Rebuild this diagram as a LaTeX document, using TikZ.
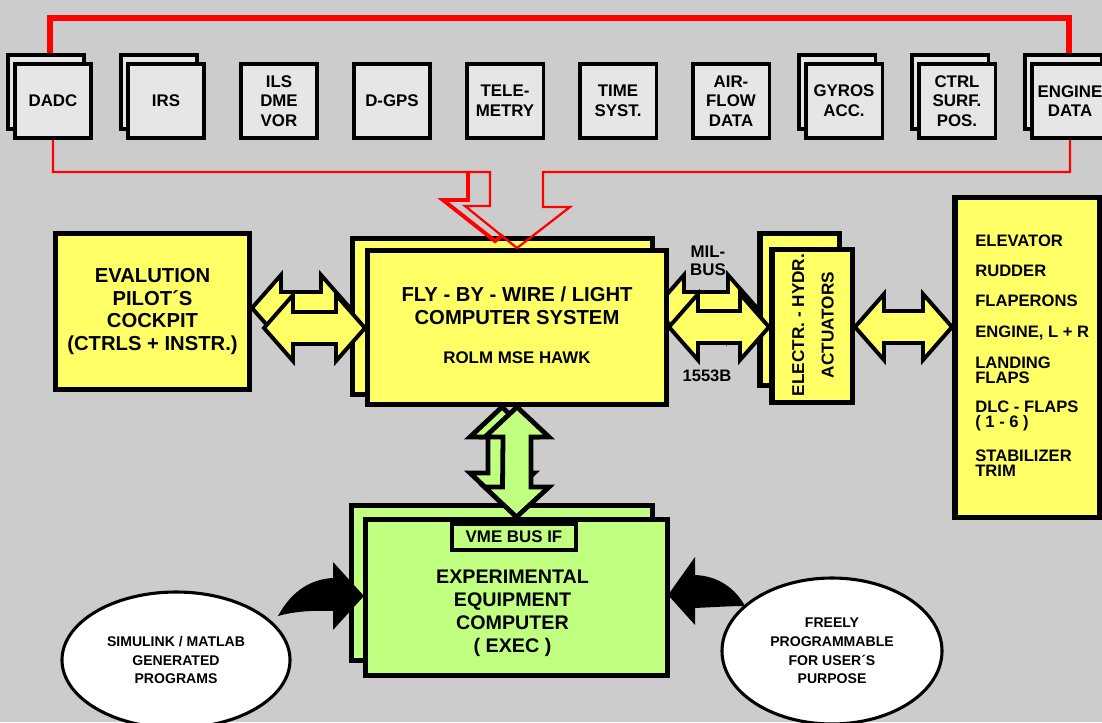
\documentclass[tikz,border=0pt]{standalone}
\usepackage{fontspec}
\setmainfont{Liberation Sans}
\usepackage{tikz}
\usetikzlibrary{calc, positioning, shapes.geometric}

\definecolor{bggray}{RGB}{204,204,204}
\definecolor{sensorgray}{RGB}{230,230,230}
\definecolor{boxyellow}{RGB}{255,255,102}
\definecolor{boxgreen}{RGB}{192,255,128}
\definecolor{busred}{RGB}{255,0,0}

\def\pxl{0.025cm}

% horizontal double arrow: style, left tip, right tip
\newcommand{\hdarrow}[3]{%
	\draw[#1] let \p1=(#2), \p2=(#3) in (\p1) -- ++(29,-33) -- ++(0,17) -- ({\x2-29*\pxl},{\y1+16*\pxl}) -- ++(0,-17) -- (\p2) -- ++(-29,33) -- ++(0,-17) -- ({\x1+29*\pxl},{\y1-16*\pxl}) -- ++(0,17) -- cycle;
}
% vertical double arrow: style, top tip, bottom tip
\newcommand{\vdarrow}[3]{%
	\draw[#1] let \p1=(#2), \p2=(#3) in (\p1) -- ++(32,30) -- ++(-18,0) -- ({\x1+14*\pxl},{\y2+30*\pxl}) -- ++(18,0) -- (\p2) -- ++(-32,-30) -- ++(18,0) -- ({\x1-14*\pxl},{\y1-30*\pxl}) -- ++(-18,0) -- cycle;
}

\begin{document}
\begin{tikzpicture}[x=\pxl, y=-\pxl,
	sensor/.style={draw, line width=2.5pt, fill=sensorgray, minimum width=76.5*\pxl, minimum height=74.5*\pxl, inner sep=0pt, align=center, font=\bfseries\fontsize{12}{14}\selectfont},
	ybox/.style={draw, line width=3.9pt, fill=boxyellow, inner sep=0pt, align=center},
	gbox/.style={draw, line width=3.9pt, fill=boxgreen, inner sep=0pt, align=center},
	bigtxt/.style={align=center, font=\bfseries\fontsize{14.4}{16.3}\selectfont},
	smalltxt/.style={align=center, font=\bfseries\fontsize{12}{12.8}\selectfont},
	surfitem/.style={anchor=west, align=left, inner sep=0pt, font=\bfseries\fontsize{11.8}{10.6}\selectfont},
	oval/.style={ellipse, draw, line width=2.2pt, fill=white, inner sep=0pt, align=center, font=\bfseries\fontsize{10}{13.2}\selectfont},
	yarrow/.style={draw, line width=2.8pt, fill=boxyellow, line join=miter},
	garrow/.style={draw, line width=3.4pt, fill=boxgreen, line join=miter},
]

\useasboundingbox (0,0) rectangle (1102,722);
\fill[bggray] (0,0) rectangle (1102,722); % background

% sensor row
\foreach \k/\nm/\txt/\dbl in {0/dadc/DADC/1, 1/irs/IRS/1, 2/ils/{ILS\\DME\\VOR}/0, 3/dgps/D-GPS/0, 4/tele/{TELE-\\METRY}/0, 5/time/{TIME\\SYST.}/0, 6/airflow/{AIR-\\FLOW\\DATA}/0, 7/gyros/{GYROS\\ACC.}/1, 8/ctrl/{CTRL\\SURF.\\POS.}/1, 9/engine/{ENGINE\\DATA}/1} {
	\ifnum\dbl=1
		\node[sensor] (\nm-back) at ({53+113*\k-7}, 92) {};
	\fi
	\node[sensor] (\nm) at ({53+113*\k}, 101) {\txt};
}

% back boxes
\node[ybox, minimum width=193.5*\pxl, minimum height=155.5*\pxl, bigtxt] (cockpit) at (152.5,311.5) {EVALUTION\\PILOT´S\\COCKPIT\\(CTRLS + INSTR.)};
\node[ybox, minimum width=299.5*\pxl, minimum height=155.5*\pxl] (fbw-back) at (502.5,316.5) {};
\node[ybox, minimum width=79.5*\pxl, minimum height=151.5*\pxl] (act-back) at (799.5,309.5) {};
\node[gbox, minimum width=300.5*\pxl, minimum height=154.5*\pxl] (exec-back) at (502,583) {};

% hidden arrows
\coordinate (ck-b1) at (cockpit.east |- 0,308);
\coordinate (ck-b2) at (fbw-back.west |- 0,308);
\coordinate (mil-b1) at (fbw-back.east |- 0,308);
\coordinate (mil-b2) at (act-back.west |- 0,308);
\hdarrow{yarrow}{ck-b1}{ck-b2}
\hdarrow{yarrow}{mil-b1}{mil-b2}

% front boxes
\node[ybox, minimum width=298.5*\pxl, minimum height=153.5*\pxl] (fbw) at (517,327.5) {};
\node[ybox, minimum width=80.5*\pxl, minimum height=152.5*\pxl] (act) at (812,326) {};
\node[ybox, minimum width=144.5*\pxl, minimum height=319.5*\pxl] (surf) at (1027,357.5) {};
\node[gbox, minimum width=301.5*\pxl, minimum height=155.5*\pxl] (exec) at (516.5,597.5) {};
\node[gbox, line width=2.8pt, minimum width=124*\pxl, minimum height=26*\pxl, smalltxt] (vme) at (514,537) {VME BUS IF};

\node[bigtxt] (fbw-title) at (517,306) {FLY - BY - WIRE / LIGHT\\COMPUTER SYSTEM};
\node[font=\bfseries\fontsize{12}{13}\selectfont] (fbw-sub) at (517,358) {ROLM MSE HAWK};
\node[rotate=90, align=center, font=\bfseries\fontsize{12.2}{21}\selectfont] (act-text) at (813,325) {ELECTR. - HYDR.\\ACTUATORS};
\node[bigtxt, font=\bfseries\fontsize{14}{16.3}\selectfont] (exec-text) at (512.5,613.5) {EXPERIMENTAL\\EQUIPMENT\\COMPUTER\\( EXEC )};
\node[smalltxt] (milbus) at (708,261) {MIL-\\BUS};
\node[smalltxt, font=\bfseries\fontsize{11.8}{12.8}\selectfont] (b1553) at (707,376) {1553B};

% control surfaces
\foreach \yy/\txt [count=\k] in {241/ELEVATOR, 271/RUDDER, 301/FLAPERONS, 333/{ENGINE, L + R}, 370.5/{LANDING\\FLAPS}, 415.5/{DLC - FLAPS\\( 1 - 6 )}, 463.5/{STABILIZER\\TRIM}} {
	\node[surfitem] (surf-\k) at (975,\yy) {\txt};
}

% front arrows
\coordinate (ck-f1) at ($(cockpit.east |- 0,328)+(12,0)$);
\coordinate (ck-f2) at (fbw.west |- 0,328);
\hdarrow{yarrow}{ck-f1}{ck-f2}
\coordinate (mil-f1) at (fbw.east |- 0,327);
\coordinate (mil-f2) at (act.west |- 0,327);
\hdarrow{yarrow}{mil-f1}{mil-f2}
\coordinate (srf-1) at (act.east |- 0,327);
\coordinate (srf-2) at (surf.west |- 0,327);
\hdarrow{yarrow}{srf-1}{srf-2}

\coordinate (vme-b1) at (fbw.south -| exec-back.north);
\vdarrow{garrow}{vme-b1}{exec-back.north}
\vdarrow{garrow}{fbw.south}{exec.north}

% sensor bus
\draw[busred, line width=4.3pt] ([xshift=-3*\pxl]dadc.north |- dadc-back.north) -- ([xshift=-3*\pxl]dadc.north |- 0,18) -| ([xshift=-1*\pxl]engine.north |- engine-back.north);
\draw[busred, line width=2.8pt] (468,172) -- (468,200) -- (443,200) -- (495,241) -- (503,235); % arrow shadow
\draw[busred, line width=1.6pt] (dadc.south) |- (490,172) -- (490,206) -- (465,206) -- (fbw.north) -- (570,207) -- (543,207) -- (543,172) -| (engine.south);

% user programs
\node[oval, minimum width=228*\pxl, minimum height=136*\pxl] (simulink) at (176,660) {SIMULINK / MATLAB\\GENERATED\\PROGRAMS};
\node[oval, minimum width=220*\pxl, minimum height=146*\pxl] (freely) at (832,651) {FREELY\\PROGRAMMABLE\\FOR USER´S\\PURPOSE};

\fill (278,616) .. controls (292,590) and (312,579) .. (333,578) -- (333,562) -- (364,596) -- (333,630) -- (333,611) .. controls (310,610) and (292,612) .. (278,616) -- cycle;
\fill (745,606) .. controls (735,588) and (718,576) .. (695,575) -- (695,557) -- (668,595) -- (695,625) -- (695,608) .. controls (715,607) and (732,606) .. (745,606) -- cycle;

\end{tikzpicture}
\end{document}
